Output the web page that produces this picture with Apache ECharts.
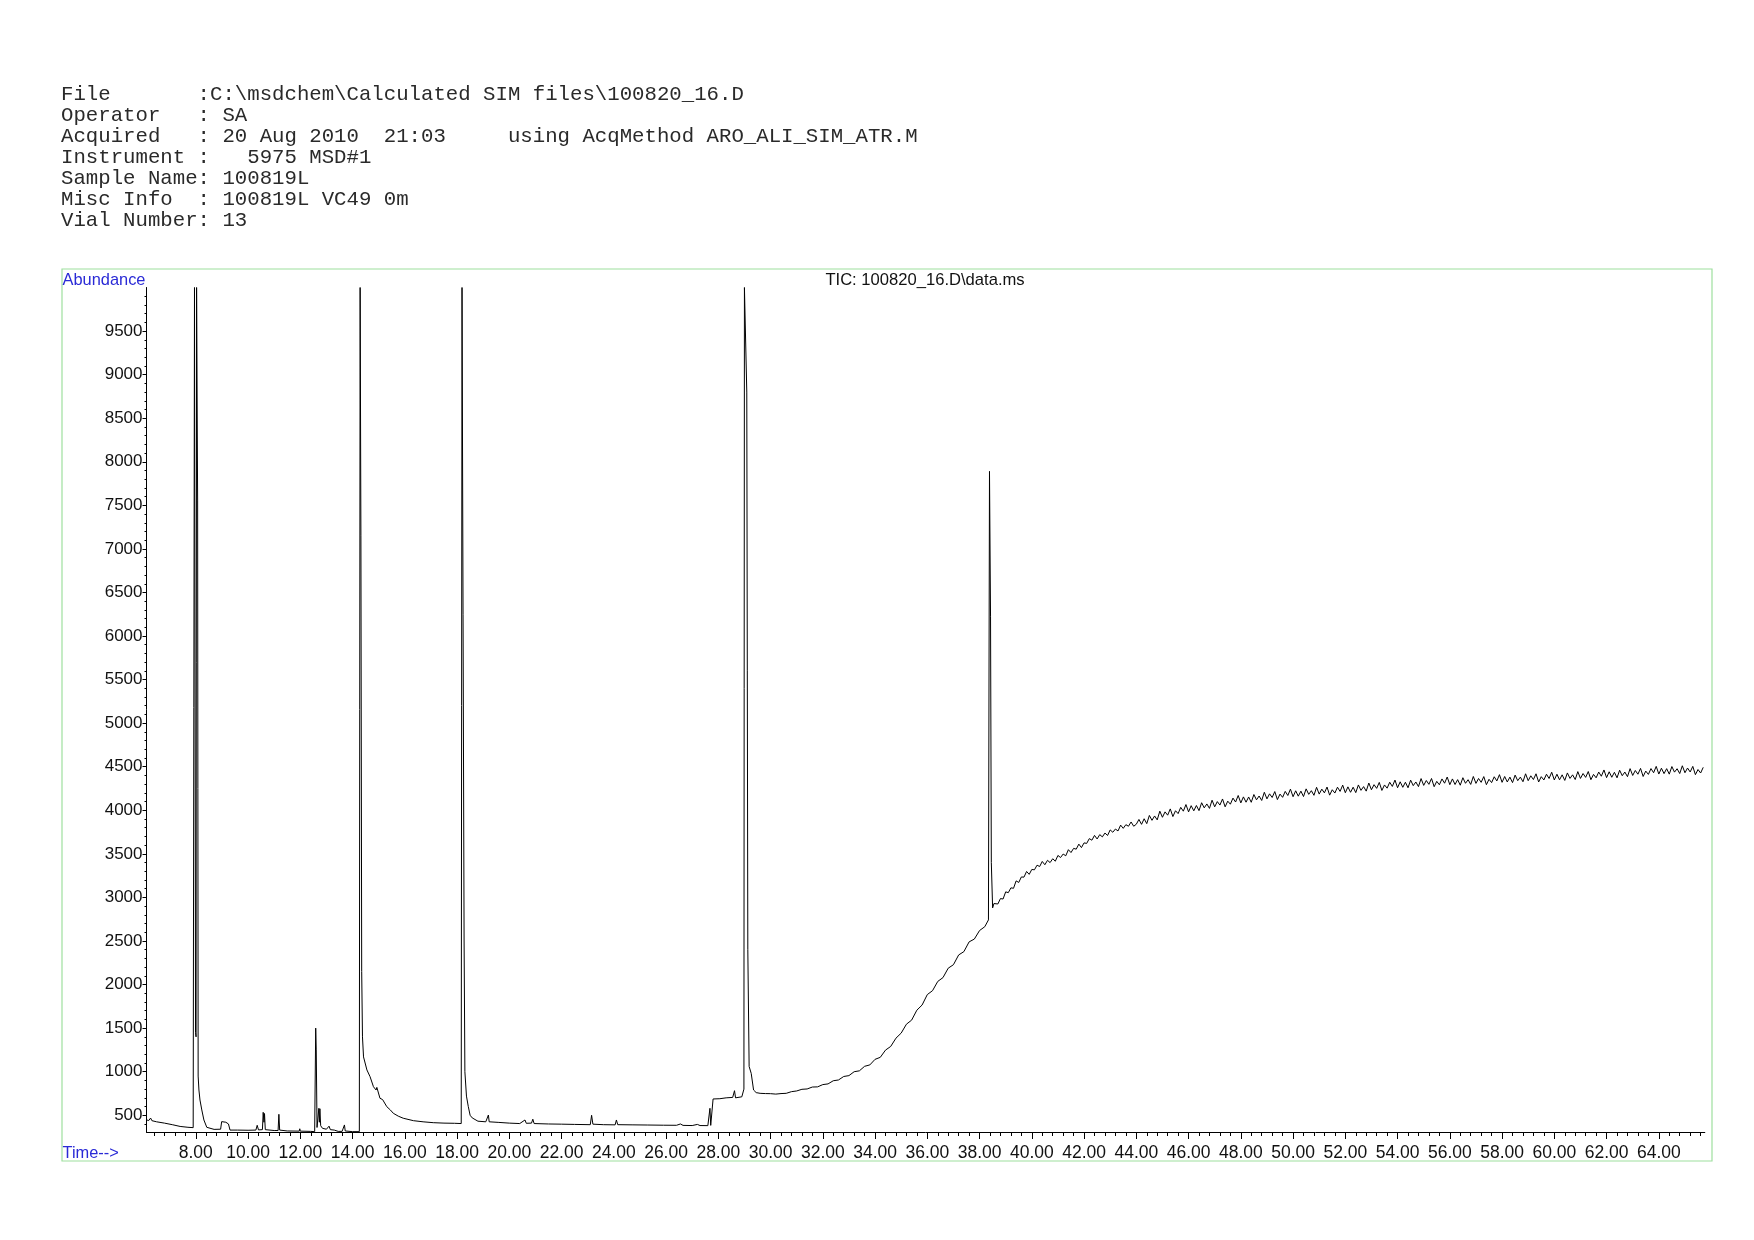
<!DOCTYPE html>
<html><head><meta charset="utf-8">
<script src="https://cdn.jsdelivr.net/npm/echarts@6/dist/echarts.min.js"></script>
<style>html,body{margin:0;padding:0;background:#fff}#c{width:1754px;height:1240px}</style>
</head><body><div id="c"></div><script>
const headerLines = [
  'File       :C:\\msdchem\\Calculated SIM files\\100820_16.D',
  'Operator   : SA',
  'Acquired   : 20 Aug 2010  21:03     using AcqMethod ARO_ALI_SIM_ATR.M',
  'Instrument :   5975 MSD#1',
  'Sample Name: 100819L',
  'Misc Info  : 100819L VC49 0m',
  'Vial Number: 13'
];
const chartTitle = 'TIC: 100820_16.D\\data.ms';
const yAxisName = 'Abundance';
const xAxisName = 'Time-->';
const xMajorTicks = [8,10,12,14,16,18,20,22,24,26,28,30,32,34,36,38,40,42,44,46,48,50,52,54,56,58,60,62,64];
const yMajorTicks = [500,1000,1500,2000,2500,3000,3500,4000,4500,5000,5500,6000,6500,7000,7500,8000,8500,9000,9500];

// [time (min), abundance]
const ticEarly = [
  [6.12,446],[6.2,440],[6.27,468],[6.32,438],[6.5,425],[6.8,410],[7.1,392],[7.4,372],[7.7,362],[7.9,358],[7.93,365],
  [7.95,10000],[7.98,10000],[7.99,1450],[8.01,1400],[8.03,10000],[8.055,10000],[8.07,7550],[8.09,950],[8.12,790],
  [8.16,675],[8.23,561],[8.31,446],[8.42,362],[8.48,340],[8.7,338],[8.95,340],[8.99,427],[9.05,410],[9.15,420],
  [9.25,400],[9.31,330],[9.6,330],[10.0,328],[10.3,330],[10.35,385],[10.4,332],[10.55,335],[10.58,534],[10.61,420],
  [10.63,520],[10.66,335],[11.0,325],[11.15,325],[11.18,511],[11.21,330],[11.5,320],[11.96,318],[11.98,345],[12.0,318],
  [12.4,315],[12.55,312],[12.59,1500],[12.61,1250],[12.64,360],[12.68,360],[12.71,580],[12.73,420],[12.75,575],
  [12.78,380],[12.85,350],[13.0,340],[13.1,375],[13.15,335],[13.3,330],[13.45,315],[13.6,315],[13.69,389],[13.72,320],
  [14.0,312],[14.26,312]
];
const ticMiddle = [
  [14.29,10000],[14.32,7150],[14.35,2150],[14.38,1400],[14.42,1170],[14.55,1020],[14.67,943],[14.8,828],[14.9,790],
  [14.93,820],[15.05,695],[15.15,680],[15.18,700],[15.31,599],[15.45,560],[15.56,523],[15.75,490],[15.94,466],
  [16.33,438],[16.7,425],[17.09,415],[17.5,410],[17.9,408],[18.16,405],[18.19,10000],[18.24,10000],[18.27,2500],
  [18.3,1000],[18.36,720],[18.43,600],[18.5,500],[18.58,470],[18.8,432],[19.1,425],[19.2,503],[19.23,425],[19.6,418],
  [20.0,410],[20.4,405],[20.6,446],[20.65,408],[20.85,410],[20.9,455],[20.95,405],[21.5,400],[22.0,398],[22.5,395],
  [23.1,392],[23.15,500],[23.2,398],[23.6,392],[24.05,390],[24.1,446],[24.15,392],[24.7,390],[25.3,388],[25.9,386],
  [26.4,385],[26.55,400],[26.65,384],[27.0,382],[27.2,395],[27.3,382],[27.6,381],[27.66,382],[27.68,580],[27.71,384],
  [27.76,384],[27.8,687],[28.06,690],[28.3,700],[28.55,705],[28.62,782],[28.66,700],[28.9,712],[28.98,800],
  [29.0,10000],[29.06,10000],[29.09,8800],[29.13,2400],[29.18,1060],[29.26,980],[29.35,790],[29.45,760]
];
const ticRise = [
  [29.6,752],[29.8,749],[30.0,748],[30.2,743],[30.4,749],[30.6,752],[30.8,771],[31.0,779],[31.2,798],[31.4,802],
  [31.6,824],[31.8,826],[32.0,852],[32.2,860],[32.4,896],[32.6,905],[32.8,945],[33.0,955],[33.2,1000],[33.4,1010],
  [33.6,1062],[33.8,1078],[34.0,1142],[34.2,1165],[34.4,1248],[34.6,1290],[34.8,1385],[35.0,1443],[35.2,1545],
  [35.4,1592],[35.6,1706],[35.8,1765],[36.0,1885],[36.2,1930],[36.4,2036],[36.6,2080],[36.8,2188],[37.0,2228],
  [37.2,2340],[37.4,2378],[37.6,2490],[37.8,2522],[38.0,2620],[38.2,2664],[38.34,2742],[38.36,2760],
  [38.38,7890],[38.41,7890],[38.42,6220],[38.45,3400],[38.5,2880],[38.55,2930]
];
const ticPlateau = [
  [38.6,2933],[38.7,2925],[38.8,2987],[38.9,2982],[39.0,3064],[39.1,3055],[39.2,3110],[39.3,3105],[39.4,3190],[39.5,3172],
  [39.6,3235],[39.7,3233],[39.8,3298],[39.9,3265],[40.0,3321],[40.1,3317],[40.2,3370],[40.3,3355],[40.4,3413],[40.5,3375],
  [40.6,3426],[40.7,3400],[40.8,3444],[40.9,3416],[41.0,3482],[41.1,3458],[41.2,3498],[41.3,3478],[41.4,3548],[41.5,3515],
  [41.6,3563],[41.7,3554],[41.8,3612],[41.9,3572],[42.0,3626],[42.1,3620],[42.2,3675],[42.3,3657],[42.4,3712],[42.5,3671],
  [42.6,3721],[42.7,3695],[42.8,3739],[42.9,3711],[43.0,3775],[43.1,3748],[43.2,3785],[43.3,3763],[43.4,3830],[43.5,3793],
  [43.6,3835],[43.7,3817],[43.8,3866],[43.9,3817],[44.0,3840],[44.1,3895],[44.2,3839],[44.3,3903],[44.4,3847],[44.5,3941],
  [44.6,3885],[44.7,3935],[44.8,3890],[44.9,3990],[45.0,3920],[45.1,3982],[45.2,3944],[45.3,4016],[45.4,3928],[45.5,3995],
  [45.6,3962],[45.7,4034],[45.8,3990],[45.9,4066],[46.0,3982],[46.1,4053],[46.2,3994],[46.3,4055],[46.4,3996],[46.5,4087],
  [46.6,4028],[46.7,4073],[46.8,4022],[46.9,4116],[47.0,4040],[47.1,4100],[47.2,4060],[47.3,4130],[47.4,4040],[47.5,4105],
  [47.6,4070],[47.7,4140],[47.8,4095],[47.9,4170],[48.0,4085],[48.1,4154],[48.2,4093],[48.3,4153],[48.4,4092],[48.5,4181],
  [48.6,4120],[48.7,4164],[48.8,4113],[48.9,4207],[49.0,4131],[49.1,4189],[49.2,4147],[49.3,4215],[49.4,4123],[49.5,4186],
  [49.6,4149],[49.7,4217],[49.8,4170],[49.9,4243],[50.0,4156],[50.1,4224],[50.2,4162],[50.3,4220],[50.4,4158],[50.5,4246],
  [50.6,4183],[50.7,4225],[50.8,4172],[50.9,4264],[51.0,4186],[51.1,4243],[51.2,4200],[51.3,4267],[51.4,4174],[51.5,4236],
  [51.6,4198],[51.7,4265],[51.8,4217],[51.9,4289],[52.0,4202],[52.1,4269],[52.2,4207],[52.3,4265],[52.4,4203],[52.5,4291],
  [52.6,4229],[52.7,4272],[52.8,4220],[52.9,4313],[53.0,4236],[53.1,4294],[53.2,4252],[53.3,4320],[53.4,4228],[53.5,4291],
  [53.6,4254],[53.7,4322],[53.8,4274],[53.9,4347],[54.0,4259],[54.1,4327],[54.2,4264],[54.3,4322],[54.4,4259],[54.5,4346],
  [54.6,4283],[54.7,4325],[54.8,4272],[54.9,4364],[55.0,4286],[55.1,4342],[55.2,4298],[55.3,4365],[55.4,4271],[55.5,4332],
  [55.6,4293],[55.7,4360],[55.8,4311],[55.9,4382],[56.0,4294],[56.1,4360],[56.2,4296],[56.3,4352],[56.4,4288],[56.5,4374],
  [56.6,4310],[56.7,4351],[56.8,4297],[56.9,4388],[57.0,4309],[57.1,4365],[57.2,4321],[57.3,4387],[57.4,4294],[57.5,4356],
  [57.6,4318],[57.7,4385],[57.8,4337],[57.9,4409],[58.0,4321],[58.1,4388],[58.2,4325],[58.3,4381],[58.4,4318],[58.5,4404],
  [58.6,4340],[58.7,4381],[58.8,4328],[58.9,4419],[59.0,4340],[59.1,4396],[59.2,4353],[59.3,4419],[59.4,4325],[59.5,4386],
  [59.6,4348],[59.7,4414],[59.8,4365],[59.9,4437],[60.0,4348],[60.1,4414],[60.2,4350],[60.3,4407],[60.4,4343],[60.5,4429],
  [60.6,4366],[60.7,4407],[60.8,4353],[60.9,4444],[61.0,4366],[61.1,4422],[61.2,4378],[61.3,4445],[61.4,4351],[61.5,4412],
  [61.6,4373],[61.7,4439],[61.8,4391],[61.9,4463],[62.0,4375],[62.1,4442],[62.2,4379],[62.3,4436],[62.4,4373],[62.5,4460],
  [62.6,4397],[62.7,4439],[62.8,4386],[62.9,4478],[63.0,4400],[63.1,4457],[63.2,4414],[63.3,4481],[63.4,4388],[63.5,4450],
  [63.6,4412],[63.7,4479],[63.8,4431],[63.9,4504],[64.0,4416],[64.1,4483],[64.2,4421],[64.3,4478],[64.4,4415],[64.5,4502],
  [64.6,4438],[64.7,4477],[64.8,4422],[64.9,4511],[65.0,4431],[65.1,4485],[65.2,4440],[65.3,4504],[65.4,4409],[65.5,4468],
  [65.6,4428],[65.7,4493]
];

const tic = ticEarly.concat(ticMiddle, ticRise, ticPlateau);

const X_MIN = 6.113, X_MAX = 65.76, Y_MIN = 308, Y_MAX = 10000;
const xMinorTicks = [];
for (let i = 0; i <= 148; i++) xMinorTicks.push(Math.round((6.4 + 0.4 * i) * 10) / 10);
const yMinorTicks = [];
for (let v = 400; v <= 9900; v += 100) yMinorTicks.push(v);

const sans = '"Liberation Sans", Arial, sans-serif';
const chart = echarts.init(document.getElementById('c'), null, {renderer: 'canvas'});
chart.setOption({
  animation: false,
  backgroundColor: '#fff',
  grid: {left: 146.5, top: 287.5, right: 49.2, bottom: 108},
  xAxis: [
    {type: 'value', min: X_MIN, max: X_MAX, position: 'bottom',
     axisLine: {show: true, onZero: false, lineStyle: {color: '#000', width: 1}},
     axisTick: {show: true, customValues: xMinorTicks, length: 4, lineStyle: {color: '#000'}},
     axisLabel: {show: false}, splitLine: {show: false}},
    {type: 'value', min: X_MIN, max: X_MAX, position: 'bottom',
     axisLine: {show: false, onZero: false},
     axisTick: {show: true, customValues: xMajorTicks, length: 7, lineStyle: {color: '#000'}},
     axisLabel: {show: true, customValues: xMajorTicks, margin: 12, fontSize: 17.5, fontFamily: sans, color: '#111',
       formatter: v => v.toFixed(2)},
     splitLine: {show: false}}
  ],
  yAxis: [
    {type: 'value', min: Y_MIN, max: Y_MAX, position: 'left',
     axisLine: {show: true, onZero: false, lineStyle: {color: '#000', width: 1}},
     axisTick: {show: true, customValues: yMinorTicks, length: 2, lineStyle: {color: '#000'}},
     axisLabel: {show: false}, splitLine: {show: false}},
    {type: 'value', min: Y_MIN, max: Y_MAX, position: 'left',
     axisLine: {show: false, onZero: false},
     axisTick: {show: true, customValues: yMajorTicks, length: 4, lineStyle: {color: '#000'}},
     axisLabel: {show: true, customValues: yMajorTicks, margin: 4, fontSize: 17, fontFamily: sans, color: '#111',
       formatter: v => String(v)},
     splitLine: {show: false}}
  ],
  series: [{
    type: 'line', xAxisIndex: 0, yAxisIndex: 0, data: tic, showSymbol: false, symbol: 'none',
    lineStyle: {color: '#000', width: 1}, clip: true
  }],
  graphic: [
    {type: 'rect', shape: {x: 62, y: 269, width: 1650, height: 892}, silent: true,
     style: {fill: null, stroke: '#9ee09e', lineWidth: 1.2}},
    {type: 'text', x: 61, y: 84.3, silent: true,
     style: {text: headerLines.join('\n'), font: '20.7px "Liberation Mono", "Courier New", monospace',
             lineHeight: 20.9, fill: '#2a2a2a', textVerticalAlign: 'top'}},
    {type: 'text', x: 925, y: 280.5, silent: true,
     style: {text: chartTitle, font: '16.6px ' + sans, fill: '#111', textAlign: 'center', textVerticalAlign: 'middle'}},
    {type: 'text', x: 62.5, y: 280.5, silent: true,
     style: {text: yAxisName, font: '16.4px ' + sans, fill: '#2a2ad6', textAlign: 'left', textVerticalAlign: 'middle'}},
    {type: 'text', x: 62.5, y: 1153, silent: true,
     style: {text: xAxisName, font: '16.4px ' + sans, fill: '#2a2ad6', textAlign: 'left', textVerticalAlign: 'middle'}}
  ]
});
</script></body></html>
